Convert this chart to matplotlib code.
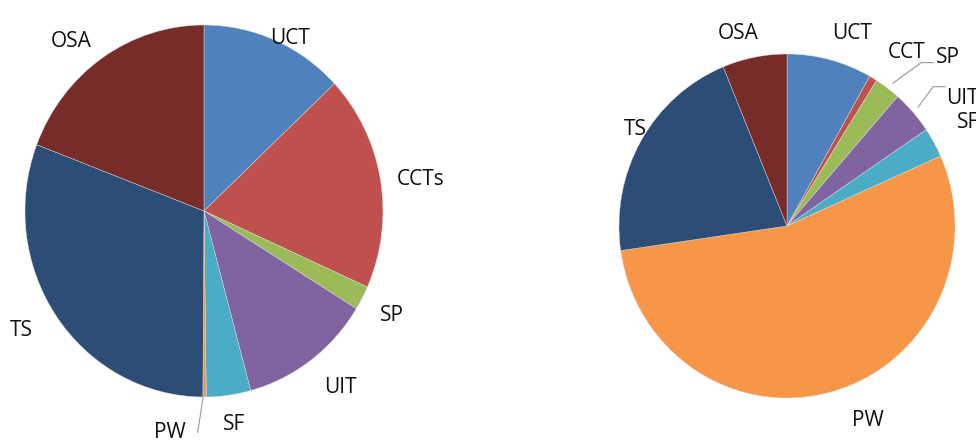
import matplotlib.pyplot as plt
import numpy as np

plt.rcParams['font.family'] = ['Open Sans', 'DejaVu Sans']

# left pie
labels1 = ['UCT', 'CCTs', 'SP', 'UIT', 'SF', 'PW', 'TS', 'OSA']
sizes1 = [13.0, 18.7, 2.1, 12.0, 4.0, 0.3, 30.7, 19.2]

# right pie
labels2 = ['UCT', 'CCT', 'SP', 'UIT', 'SF', 'PW', 'TS', 'OSA']
sizes2 = [8.2, 0.75, 2.5, 4.1, 2.8, 54.4, 21.1, 6.2]

colors = ['#4F81BD', '#C0504D', '#9BBB59', '#8064A2', '#4BACC6',
          '#F79646', '#2C4D75', '#772C2A']

# label placement (in pie radius units), alignment
pos1 = [(0.48, 0.93, 'center'), (1.21, 0.17, 'center'), (1.05, -0.56, 'center'),
        (0.76, -0.95, 'center'), (0.17, -1.15, 'center'), (-0.19, -1.19, 'center'),
        (-1.02, -0.64, 'center'), (-0.74, 0.91, 'center')]
pos2 = [(0.39, 1.12, 'center'), (0.71, 1.01, 'center'), (0.96, 0.98, 'center'),
        (0.95, 0.74, 'left'), (1.01, 0.60, 'left'), (0.48, -1.13, 'center'),
        (-0.90, 0.56, 'center'), (-0.29, 1.12, 'center')]

fig = plt.figure(figsize=(9.76, 4.44), dpi=100)
ax1 = fig.add_axes([0.0256, 0.1059, 0.3668, 0.8378])
ax2 = fig.add_axes([0.6342, 0.1036, 0.3443, 0.7748])


def draw_pie(ax, sizes, labels, pos):
    ax.pie(sizes, colors=colors, startangle=90, counterclock=False,
           wedgeprops=dict(linewidth=0.3, edgecolor='#dddddd'))
    ax.set_aspect('auto')
    ax.set_xlim(-1, 1)
    ax.set_ylim(-1, 1)
    for lab, (x, y, ha) in zip(labels, pos):
        ax.text(x, y, lab, ha=ha, va='center', fontsize=15, color='#111111',
                clip_on=False)


draw_pie(ax1, sizes1, labels1, pos1)
draw_pie(ax2, sizes2, labels2, pos2)

# leader lines
ax1.plot([-0.005, -0.035], [-1.0, -1.19], color='#999999', lw=0.8, clip_on=False)
ax2.plot([0.63, 0.80, 0.87], [0.83, 0.95, 0.95], color='#999999', lw=0.8, clip_on=False)
ax2.plot([0.78, 0.87, 0.94], [0.69, 0.81, 0.81], color='#999999', lw=0.8, clip_on=False)

fig.savefig('out.png', dpi=100)
